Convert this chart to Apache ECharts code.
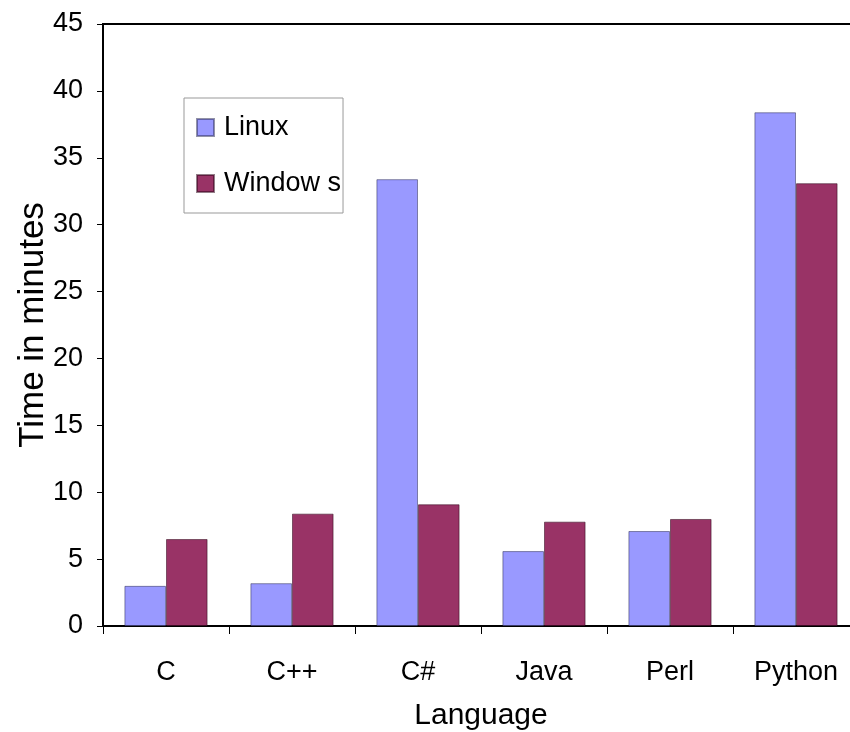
<!DOCTYPE html>
<html>
<head>
<meta charset="utf-8">
<script src="https://cdn.jsdelivr.net/npm/echarts@6/dist/echarts.min.js"></script>
<style>html,body{margin:0;padding:0;background:#fff}#c{width:850px;height:732px}</style>
</head>
<body>
<div id="c"></div>
<script>
const categories = ['C', 'C++', 'C#', 'Java', 'Perl', 'Python'];
const linux = [3.0, 3.2, 33.4, 5.6, 7.1, 38.4];
const windows = [6.5, 8.4, 9.1, 7.8, 8.0, 33.1];
const seriesNames = ['Linux', 'Window s'];
const FONT = 'Liberation Sans';

const chart = echarts.init(document.getElementById('c'), null, {renderer: 'canvas'});
chart.setOption({
  animation: false,
  backgroundColor: '#fff',
  textStyle: {fontFamily: FONT},
  grid: {left: 103, top: 24, width: 756, height: 602, containLabel: false, outerBoundsMode: 'none',
         show: true, borderColor: '#000', borderWidth: 2, backgroundColor: 'transparent'},
  legend: {
    orient: 'vertical', left: 184, top: 98,
    itemWidth: 17, itemHeight: 17, itemGap: 29,
    padding: [16, 2, 16, 12],
    borderColor: '#999', borderWidth: 1, backgroundColor: '#fff',
    icon: 'rect',
    textStyle: {fontFamily: FONT, fontSize: 27, lineHeight: 27, color: '#000', padding: [0, 0, 0, 5]},
    data: seriesNames
  },
  xAxis: {
    type: 'category', data: categories,
    name: 'Language', nameLocation: 'middle', nameGap: 75, nameMoveOverlap: false,
    nameTextStyle: {fontFamily: FONT, fontSize: 30, color: '#000'},
    axisLine: {lineStyle: {color: '#000', width: 2}},
    axisTick: {show: true, length: 8, lineStyle: {color: '#000', width: 1}},
    axisLabel: {fontFamily: FONT, fontSize: 27, color: '#000', margin: 33},
    splitLine: {show: false}
  },
  yAxis: {
    type: 'value', min: 0, max: 45, interval: 5,
    name: 'Time in minutes', nameLocation: 'middle', nameGap: 52, nameRotate: 90, nameMoveOverlap: false,
    nameTextStyle: {fontFamily: FONT, fontSize: 35, color: '#000'},
    axisLine: {show: true, lineStyle: {color: '#000', width: 2}},
    axisTick: {show: true, length: 6, lineStyle: {color: '#000', width: 1}},
    axisLabel: {fontFamily: FONT, fontSize: 27, color: '#000', margin: 20},
    splitLine: {show: false}
  },
  series: [
    {name: seriesNames[0], type: 'bar', data: linux, barWidth: '33%', barGap: '0%',
     itemStyle: {color: '#9999FF', borderColor: 'rgba(40,40,80,0.5)', borderWidth: 1}},
    {name: seriesNames[1], type: 'bar', data: windows, barWidth: '33%', barGap: '0%',
     itemStyle: {color: '#993366', borderColor: 'rgba(40,0,20,0.5)', borderWidth: 1}}
  ]
});
</script>
</body>
</html>
